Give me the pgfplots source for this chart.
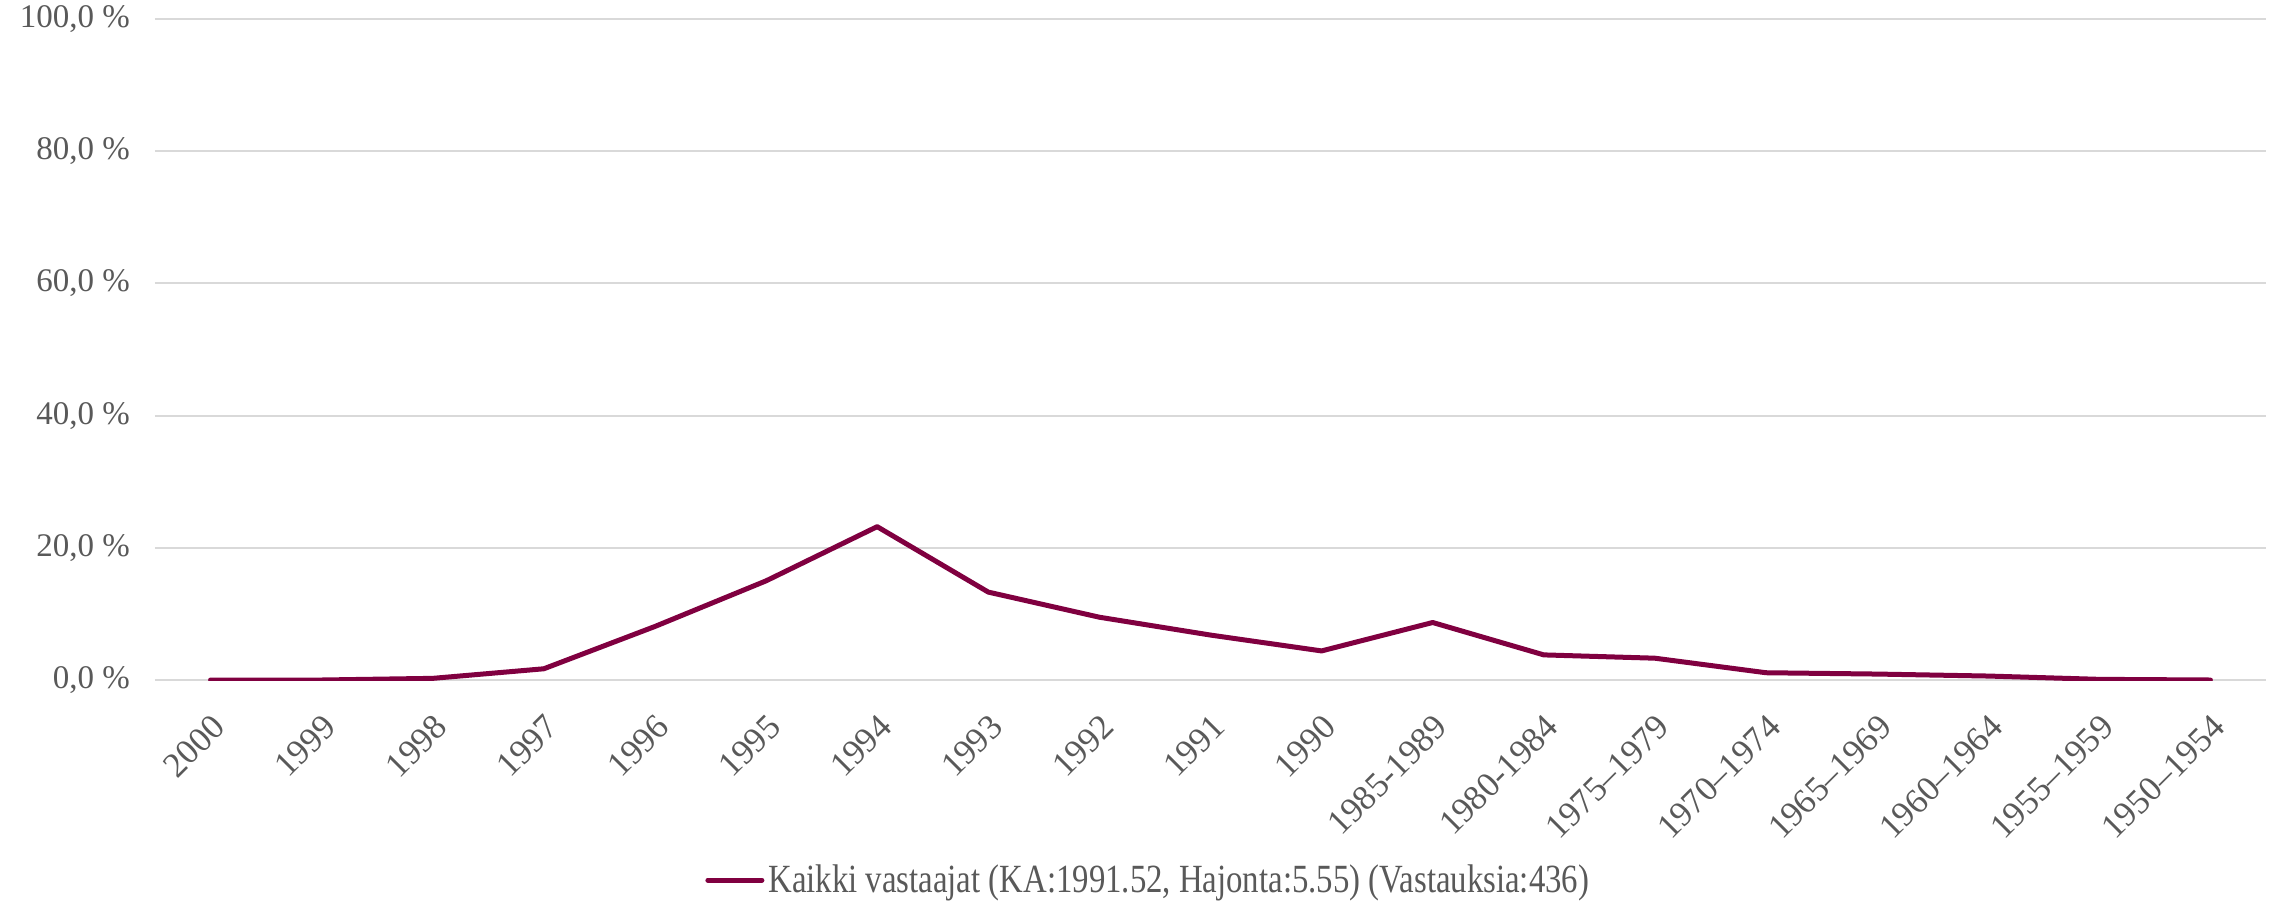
\documentclass[border=0pt]{standalone}
\usepackage{fontspec}
\setmainfont{Liberation Serif}
\newfontfamily\legendfont[FakeStretch=0.82]{Liberation Serif}
\usepackage{pgfplots}
\pgfplotsset{compat=1.18}
\definecolor{maroon}{RGB}{128,0,64}
\definecolor{gridgray}{RGB}{217,217,217}
\definecolor{labelgray}{RGB}{89,89,89}
\begin{document}
\begin{tikzpicture}
    \begin{axis}[
        at={(0,0)}, anchor=south west,
        scale only axis,
        width=1055.5pt, height=330.5pt,
        xmin=-0.5, xmax=18.5,
        ymin=0, ymax=100,
        ytick={0,20,40,60,80,100},
        xtick={0,...,18},
        xticklabels={2000,1999,1998,1997,1996,1995,1994,1993,1992,1991,1990,
            1985-1989,1980-1984,1975–1979,1970–1974,1965–1969,1960–1964,1955–1959,1950–1954},
        axis line style={draw=none},
        major tick length=0pt,
        ymajorgrids=true,
        grid style={gridgray, line width=1pt},
        tick label style={text=labelgray},
        yticklabel style={font=\fontsize{16.5}{18}\selectfont, xshift=-9pt},
        /pgf/number format/assume math mode=true,
        yticklabel={\pgfmathprintnumber[fixed,fixed zerofill,precision=1,use comma]{\tick}~\%},
        xticklabel style={font=\fontsize{17.5}{19}\selectfont, rotate=45,
            anchor=north east, inner sep=0pt, xshift=-11.5pt, yshift=-11.5pt},
        legend style={at={(0.471,-0.3026)}, anchor=center, draw=none,
            font=\legendfont\fontsize{20}{22}\selectfont, text=labelgray},
        legend image code/.code={\draw[#1] (0pt,0pt) -- (27pt,0pt);},
    ]
        \addplot[color=maroon, line width=2.5pt, line join=round, line cap=round]
            coordinates {
                (0,0.0) (1,0.0) (2,0.25) (3,1.7) (4,8.1) (5,15.0) (6,23.2)
                (7,13.3) (8,9.5) (9,6.8) (10,4.4) (11,8.7) (12,3.8)
                (13,3.3) (14,1.1) (15,0.9) (16,0.6) (17,0.1) (18,0.0)
            };
        \addlegendentry{Kaikki vastaajat (KA:1991.52, Hajonta:5.55) (Vastauksia:436)}
    \end{axis}
    \pgfresetboundingbox
    \path (-77.5pt,-110.5pt) rectangle (1062.5pt,340pt);
\end{tikzpicture}
\end{document}
